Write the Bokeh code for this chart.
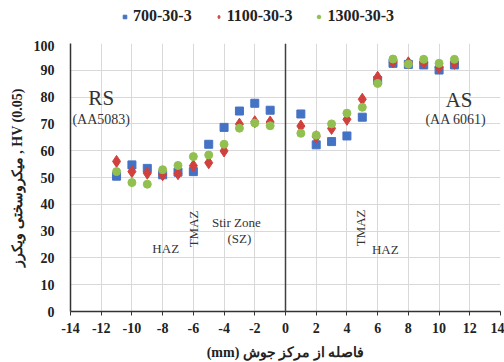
from bokeh.plotting import figure
from bokeh.layouts import column
from bokeh.models import Label, Span, Legend, FixedTicker
from bokeh.embed import file_html
from bokeh.resources import INLINE

# distance from weld centre (mm)
positions = [-11, -10, -9, -8, -7, -6, -5, -4, -3, -2, -1,
             1, 2, 3, 4, 5, 6, 7, 8, 9, 10, 11]
hv_700 = [50.5, 54.7, 53.4, 51.0, 52.0, 52.2, 62.4, 68.7, 74.8, 77.7, 75.1,
          73.7, 62.2, 63.4, 65.5, 72.5, 86.2, 92.6, 92.2, 92.0, 90.1, 92.0]
hv_1100 = [56.0, 52.2, 51.6, 51.0, 51.4, 54.4, 55.5, 59.9, 69.9, 70.8, 70.7,
           69.2, 65.2, 68.3, 71.7, 79.2, 87.4, 93.1, 92.8, 92.8, 91.1, 92.6]
hv_1300 = [52.2, 48.1, 47.5, 52.9, 54.5, 57.8, 58.4, 62.4, 68.4, 70.3, 69.3,
           66.5, 65.8, 70.0, 74.0, 76.2, 85.1, 94.2, 92.3, 94.1, 92.6, 94.1]
series_names = ["700-30-3", "1100-30-3", "1300-30-3"]
series_colors = ["#4472C4", "#D0413E", "#92C050"]
series_markers = ["square", "diamond", "circle"]
series_sizes = [8, 12, 8]
x_ticks = list(range(-14, 15, 2))
y_ticks = list(range(0, 101, 10))

SERIF = "Liberation Serif"

p = figure(width=504, height=322, x_range=(-14, 14), y_range=(0, 100),
           output_backend="svg", toolbar_location=None,
           min_border_left=70, min_border_right=4, min_border_top=3,
           min_border_bottom=50)

p.outline_line_color = None
p.background_fill_color = "white"
p.border_fill_color = "white"

# grids
p.xgrid.ticker = FixedTicker(ticks=x_ticks)
p.ygrid.ticker = FixedTicker(ticks=y_ticks)
p.grid.grid_line_color = "#d9d9d9"
p.grid.grid_line_width = 1

# axes
p.xaxis.ticker = FixedTicker(ticks=x_ticks)
p.yaxis.ticker = FixedTicker(ticks=y_ticks)
p.xaxis.major_label_overrides = {t: str(t) for t in x_ticks}
for ax in (p.xaxis[0], p.yaxis[0]):
    ax.axis_line_color = "#333333"
    ax.axis_line_width = 1.5
    ax.major_label_text_font = SERIF
    ax.major_label_text_font_style = "bold"
    ax.major_label_text_font_size = "14px"
    ax.major_label_text_color = "#222222"
    ax.minor_tick_line_color = None
    ax.axis_label_text_font = SERIF
    ax.axis_label_text_font_style = "bold"
    ax.axis_label_text_color = "#222222"
p.xaxis.major_tick_line_color = "#333333"
p.xaxis.major_tick_out = 4
p.xaxis.major_tick_in = 0
p.yaxis.major_tick_line_color = None
p.yaxis.major_label_standoff = 10
p.xaxis.major_label_standoff = 7

p.xaxis.axis_label = "(mm) فاصله از مرکز جوش"
p.xaxis.axis_label_text_font_size = "14px"
p.xaxis.axis_label_standoff = 9
p.yaxis.axis_label = "میکروسختی ویکرز , HV (0.05)"
p.yaxis.axis_label_text_font_size = "14px"
p.yaxis.axis_label_standoff = 6

# weld centre line
p.add_layout(Span(location=0, dimension="height", line_color="#404040", line_width=1.5))

series_vals = [hv_700, hv_1100, hv_1300]
for vals, mk, sz, col in zip(series_vals, series_markers, series_sizes, series_colors):
    p.scatter(positions, vals, marker=mk, size=sz, color=col)

# annotations
ann_text = ["RS", "(AA5083)", "AS", "(AA 6061)", "HAZ", "Stir Zone", "(SZ)", "HAZ"]
ann_x = [-12.0, -12.0, 11.3, 11.1, -7.8, -3.2, -3.0, 6.5]
ann_y = [79.5, 71.5, 79.0, 71.5, 23.6, 33.3, 27.3, 23.3]
ann_size = ["21px", "14px", "21px", "14px", "13px", "13px", "13px", "13px"]
for t, x, y, s in zip(ann_text, ann_x, ann_y, ann_size):
    p.add_layout(Label(x=x, y=y, text=t, text_font=SERIF, text_font_size=s,
                       text_color="#333333", text_align="center",
                       text_baseline="middle"))

rot_text = ["TMAZ", "TMAZ"]
rot_x = [-6.0, 4.9]
rot_y = [30.8, 31.2]
for t, x, y in zip(rot_text, rot_x, rot_y):
    p.add_layout(Label(x=x, y=y, text=t, text_font=SERIF, text_font_size="13px",
                       text_color="#333333", text_align="center",
                       text_baseline="middle", angle=1.5708))

# legend strip on top (its renderers hold the same data, outside its view)
lg = figure(width=504, height=40, x_range=(-14, 14), y_range=(-2, -1),
            output_backend="svg", toolbar_location=None, min_border=0)
lg.axis.visible = False
lg.grid.visible = False
lg.outline_line_color = None
items = []
for name, vals, mk, col in zip(series_names, series_vals, series_markers, series_colors):
    r = lg.scatter(positions, vals, marker=mk, color=col)
    items.append((name, [r]))
legend = Legend(items=items, orientation="horizontal", location=(50, 15),
                label_text_font=SERIF, label_text_font_style="bold",
                label_text_font_size="16px", label_text_color="#222222",
                glyph_width=9, glyph_height=9, spacing=22, padding=2,
                label_standoff=4, margin=0, border_line_color=None,
                background_fill_alpha=0)
lg.add_layout(legend)

layout = column(lg, p, spacing=0)
open("out.html", "w").write(file_html(layout, INLINE))
